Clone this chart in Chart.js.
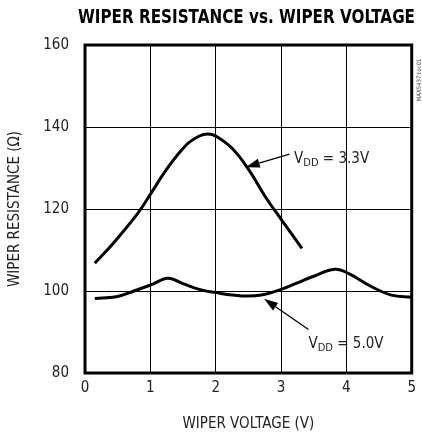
<!DOCTYPE html>
<html>
<head>
<meta charset="utf-8">
<script src="https://cdn.jsdelivr.net/npm/chart.js@4.4.0/dist/chart.umd.js"></script>
<style>
  html, body { margin: 0; padding: 0; background: #fff; }
  #wrap { width: 422px; height: 437px; }
</style>
</head>
<body>
<div id="wrap"><canvas id="chart" width="422" height="437"></canvas></div>
<script>
// data
const vdd33Voltage = [0.15, 0.43, 0.81, 1.01, 1.24, 1.55, 1.75, 1.88, 2.0, 2.25, 2.51, 2.76, 3.01, 3.32];
const vdd33Resist  = [106.8, 111.6, 119, 123.8, 129.5, 135.6, 137.8, 138.3, 137.8, 134.8, 129.5, 123.0, 117.3, 110.4];

const vdd50Voltage = [0.15, 0.48, 0.75, 1.01, 1.27, 1.5, 1.75, 2.0, 2.4, 2.7, 3.0, 3.25, 3.5, 3.82, 4.03, 4.38, 4.69, 5.0];
const vdd50Resist  = [98.2, 98.6, 100, 101.5, 103.1, 101.8, 100.4, 99.6, 98.8, 99.0, 100.4, 102, 103.6, 105.3, 104.3, 101.1, 99.0, 98.5];

const xTicks = [0, 1, 2, 3, 4, 5];
const yTicks = [80, 100, 120, 140, 160];

const NARROW = "'DejaVu Sans Condensed', 'Liberation Sans Narrow', sans-serif";

const toPoints = (xs, ys) => xs.map((x, i) => ({ x, y: ys[i] }));

// frame, title, curve labels with arrows
const decorPlugin = {
    id: 'decor',
    afterDraw(chart) {
        const { ctx, chartArea, scales } = chart;
        const xs = scales.x, ys = scales.y;
        ctx.save();

        // heavy frame round the plot
        ctx.strokeStyle = '#000';
        ctx.lineWidth = 3;
        ctx.strokeRect(chartArea.left, chartArea.top,
            chartArea.right - chartArea.left, chartArea.bottom - chartArea.top);

        // title, squeezed like a condensed black face
        ctx.fillStyle = '#000';
        ctx.font = "bold 20px " + NARROW;
        ctx.textAlign = 'center';
        ctx.textBaseline = 'middle';
        ctx.fillText('WIPER RESISTANCE vs. WIPER VOLTAGE', 246.5, 18, 337);

        // small figure id on the right edge
        ctx.save();
        ctx.translate(419, 80);
        ctx.rotate(-Math.PI / 2);
        ctx.font = "6px " + NARROW;
        ctx.fillStyle = '#444';
        ctx.fillText('MAX5437 toc01', 0, 0);
        ctx.restore();

        const label = (x, y, value) => {
            let px = xs.getPixelForValue(x);
            const py = ys.getPixelForValue(y);
            ctx.fillStyle = '#222';
            ctx.textAlign = 'left';
            ctx.textBaseline = 'alphabetic';
            ctx.font = "15px " + NARROW;
            ctx.fillText('V', px, py);
            px += ctx.measureText('V').width;
            ctx.font = "11px " + NARROW;
            ctx.fillText('DD', px, py + 3);
            px += ctx.measureText('DD').width;
            ctx.font = "15px " + NARROW;
            ctx.fillText(' = ' + value, px, py);
        };

        const arrow = (x0, y0, x1, y1) => {
            const ax = xs.getPixelForValue(x0), ay = ys.getPixelForValue(y0);
            const bx = xs.getPixelForValue(x1), by = ys.getPixelForValue(y1);
            const ang = Math.atan2(by - ay, bx - ax);
            const len = 14, half = 4.5;
            ctx.strokeStyle = '#000';
            ctx.lineWidth = 1.3;
            ctx.beginPath();
            ctx.moveTo(ax, ay);
            ctx.lineTo(bx - Math.cos(ang) * len, by - Math.sin(ang) * len);
            ctx.stroke();
            ctx.fillStyle = '#000';
            ctx.beginPath();
            ctx.moveTo(bx, by);
            ctx.lineTo(bx - Math.cos(ang) * len - Math.sin(ang) * half,
                       by - Math.sin(ang) * len + Math.cos(ang) * half);
            ctx.lineTo(bx - Math.cos(ang) * len + Math.sin(ang) * half,
                       by - Math.sin(ang) * len - Math.cos(ang) * half);
            ctx.closePath();
            ctx.fill();
        };

        label(3.2, 131.3, '3.3V');
        arrow(3.13, 133.4, 2.46, 130.2);
        label(3.42, 86.2, '5.0V');
        arrow(3.42, 90.6, 2.74, 98.1);

        ctx.restore();
    }
};

new Chart(document.getElementById('chart'), {
    type: 'scatter',
    data: {
        datasets: [{
            label: 'VDD = 3.3V',
            data: toPoints(vdd33Voltage, vdd33Resist),
            showLine: true,
            borderColor: '#000',
            borderWidth: 3,
            pointRadius: 0,
            tension: 0.4
        }, {
            label: 'VDD = 5.0V',
            data: toPoints(vdd50Voltage, vdd50Resist),
            showLine: true,
            borderColor: '#000',
            borderWidth: 3,
            pointRadius: 0,
            tension: 0.4
        }]
    },
    options: {
        responsive: false,
        animation: false,
        layout: { padding: { top: 45, right: 8, left: 0, bottom: 0 } },
        plugins: {
            legend: { display: false },
            tooltip: { enabled: false }
        },
        scales: {
            x: {
                type: 'linear',
                min: 0,
                max: 5,
                afterBuildTicks: (s) => { s.ticks = xTicks.map(v => ({ value: v })); },
                afterFit: (s) => { s.height = 64; },
                grid: { color: '#000', lineWidth: 1, drawTicks: false },
                border: { display: false },
                ticks: { color: '#222', padding: 6, font: { family: NARROW, size: 15 } },
                title: {
                    display: true,
                    text: 'WIPER VOLTAGE (V)',
                    color: '#222',
                    padding: { top: 5 },
                    font: { family: NARROW, size: 15 }
                }
            },
            y: {
                min: 80,
                max: 160,
                afterBuildTicks: (s) => { s.ticks = yTicks.map(v => ({ value: v })); },
                afterFit: (s) => { s.width = 85; },
                grid: { color: '#000', lineWidth: 1, drawTicks: false },
                border: { display: false },
                ticks: { color: '#222', padding: 16, font: { family: NARROW, size: 15 } },
                title: {
                    display: true,
                    text: 'WIPER RESISTANCE (Ω)',
                    color: '#222',
                    padding: { top: 6, bottom: 0 },
                    font: { family: NARROW, size: 15 }
                }
            }
        }
    },
    plugins: [decorPlugin]
});
</script>
</body>
</html>
